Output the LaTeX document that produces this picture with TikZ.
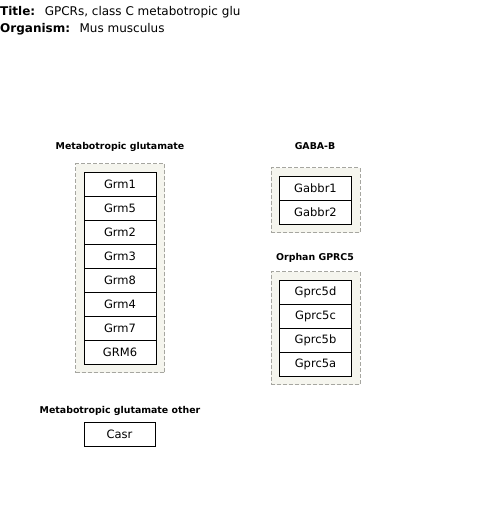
\documentclass[tikz,border=0pt]{standalone}
\usepackage{fontspec}
\setmainfont{DejaVu Sans}
\definecolor{groupbg}{HTML}{F5F5EE}
\definecolor{groupline}{HTML}{A6A6A0}
\usetikzlibrary{positioning,fit,backgrounds}
\tikzset{
  gene/.style={draw=black,fill=white,line width=0.8pt,minimum width=72pt,minimum height=24pt,inner sep=0pt,outer sep=0pt,
               font=\fontsize{11.5}{13}\selectfont},
  group/.style={draw=groupline,fill=groupbg,dash pattern=on 4pt off 2pt,line width=0.8pt,inner sep=8.5pt},
  grouptitle/.style={font=\bfseries\fontsize{9.4}{11}\selectfont,inner sep=0pt},
  header/.style={anchor=west,inner sep=0pt,font=\fontsize{12}{14}\selectfont},
}

\begin{document}
\begin{tikzpicture}[x=1pt,y=-1pt,node distance=0pt]
  \useasboundingbox (0,0) rectangle (480,516);
  \node[header] (title) at (0,12.5) {\textbf{Title:}\hspace{9.5pt}GPCRs, class C metabotropic glu};
  \node[header] (organism) at (0,29.5) {\textbf{Organism:}\hspace{9.5pt}Mus musculus};
  % metabotropic glutamate
  \node[grouptitle] (mglulabel) at (120,146.5) {Metabotropic glutamate};
  \node[gene] (grm1) at (120,184) {Grm1};
  \node[gene, below=of grm1] (grm5) {Grm5};
  \node[gene, below=of grm5] (grm2) {Grm2};
  \node[gene, below=of grm2] (grm3) {Grm3};
  \node[gene, below=of grm3] (grm8) {Grm8};
  \node[gene, below=of grm8] (grm4) {Grm4};
  \node[gene, below=of grm4] (grm7) {Grm7};
  \node[gene, below=of grm7] (grm6) {GRM6};
  % GABA-B
  \node[grouptitle] (gabalabel) at (315,146.5) {GABA-B};
  \node[gene] (gabbr1) at (315.5,188) {Gabbr1};
  \node[gene, below=of gabbr1] (gabbr2) {Gabbr2};
  % orphan GPRC5
  \node[grouptitle] (gprclabel) at (315,257.5) {Orphan GPRC5};
  \node[gene] (gprc5d) at (315.5,292) {Gprc5d};
  \node[gene, below=of gprc5d] (gprc5c) {Gprc5c};
  \node[gene, below=of gprc5c] (gprc5b) {Gprc5b};
  \node[gene, below=of gprc5b] (gprc5a) {Gprc5a};
  % other
  \node[grouptitle] (otherlabel) at (120,410.5) {Metabotropic glutamate other};
  \node[gene, minimum width=71pt] (casr) at (119.5,434) {Casr};
  \begin{scope}[on background layer]
    \node[group, fit=(grm1)(grm6)] (mglu) {};
    \node[group, fit=(gabbr1)(gabbr2)] (gaba) {};
    \node[group, fit=(gprc5d)(gprc5a)] (gprc) {};
  \end{scope}
\end{tikzpicture}
\end{document}
